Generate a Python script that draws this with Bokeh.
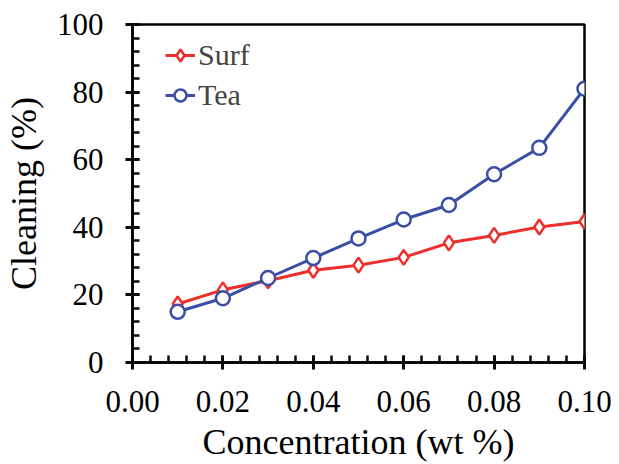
from bokeh.plotting import figure
from bokeh.models import FixedTicker, NumeralTickFormatter, Range1d, Legend, LegendItem
from bokeh.embed import file_html
from bokeh.resources import INLINE

conc = [0.01, 0.02, 0.03, 0.04, 0.05, 0.06, 0.07, 0.08, 0.09, 0.10]
surf = [17.3, 21.5, 24.2, 27.3, 28.8, 31.1, 35.4, 37.6, 40.1, 41.7]
tea = [15.0, 19.0, 25.0, 30.9, 36.7, 42.3, 46.6, 55.7, 63.5, 81.0]
x_ticks = [0.0, 0.02, 0.04, 0.06, 0.08, 0.10]
y_ticks = [0, 20, 40, 60, 80, 100]

RED = "#ee2e2a"
BLUE = "#3a4ea6"
TICK = "#0a0a0a"
FONT = "'Liberation Serif', serif"

p = figure(width=619, height=464, output_backend="svg", toolbar_location=None,
           x_range=Range1d(0, 0.10), y_range=Range1d(0, 100),
           min_border_left=60, min_border_right=35, min_border_top=24, min_border_bottom=60)

p.grid.visible = False
p.outline_line_color = "black"
p.outline_line_width = 2.5

l_s = p.line(conc, surf, line_color=RED, line_width=3)
l_t = p.line(conc, tea, line_color=BLUE, line_width=3)
m_s = p.scatter(conc, surf, marker="diamond", size=15, line_color=RED, line_width=2.5,
                fill_color="white")
m_t = p.scatter(conc, tea, marker="circle", size=14, line_color=BLUE, line_width=2.5,
                fill_color="white")

legend = Legend(items=[LegendItem(label="Surf", renderers=[l_s, m_s]),
                       LegendItem(label="Tea", renderers=[l_t, m_t])],
                location=(33, 250), border_line_color=None, background_fill_alpha=0,
                label_text_font=FONT, label_text_font_size="30px",
                glyph_width=30, glyph_height=30, label_height=34, spacing=6,
                label_standoff=3, padding=4, margin=0)
p.add_layout(legend)

xa = p.xaxis[0]
xa.ticker = FixedTicker(ticks=x_ticks, minor_ticks=[round(i * 0.004, 3) for i in range(26)])
xa.formatter = NumeralTickFormatter(format="0.00")
xa.axis_label = "Concentration (wt %)"
ya = p.yaxis[0]
ya.ticker = FixedTicker(ticks=y_ticks, minor_ticks=list(range(0, 101, 4)))
ya.axis_label = "Cleaning (%)"

for ax in (xa, ya):
    ax.axis_line_color = "black"
    ax.axis_line_width = 2.5
    ax.major_tick_line_color = TICK
    ax.major_tick_line_width = 3
    ax.major_tick_in = 7
    ax.major_tick_out = 7
    ax.minor_tick_line_color = TICK
    ax.minor_tick_line_width = 2.5
    ax.minor_tick_in = 7
    ax.minor_tick_out = 0
    ax.major_label_text_font = FONT
    ax.major_label_text_font_size = "31px"
    ax.major_label_text_color = "black"
    ax.axis_label_text_font = FONT
    ax.axis_label_text_font_size = "36px"
    ax.axis_label_text_font_style = "normal"
    ax.axis_label_text_color = "black"

xa.major_label_standoff = 21
xa.axis_label_standoff = 7
ya.major_label_standoff = 22
ya.axis_label_standoff = 10

open("out.html", "w").write(file_html(p, INLINE))
